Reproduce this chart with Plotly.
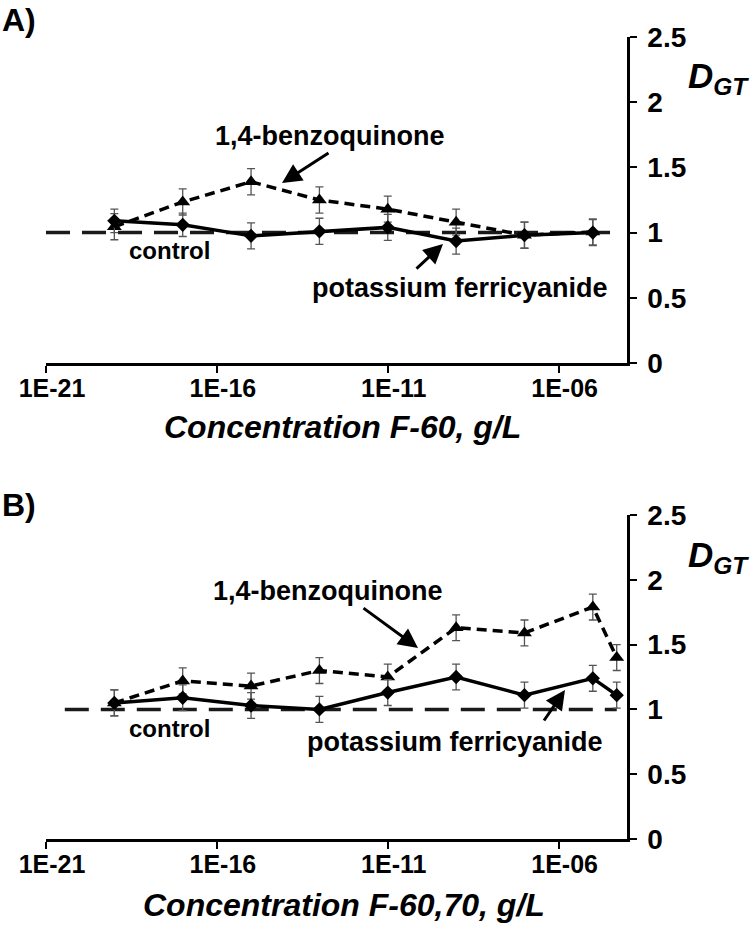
import plotly.graph_objects as go

# ---------------- data ----------------
conc_a = [1e-19, 1e-17, 1e-15, 1e-13, 1e-11, 1e-9, 1e-7, 1e-5]
a_benzo = [1.045, 1.235, 1.39, 1.25, 1.18, 1.08, 0.98, 1.005]
a_benzo_err = [0.1, 0.1, 0.1, 0.1, 0.1, 0.1, 0.1, 0.1]
a_ferri = [1.09, 1.06, 0.975, 1.01, 1.04, 0.935, 0.98, 1.0]
a_ferri_err = [0.09, 0.09, 0.1, 0.1, 0.1, 0.1, 0.1, 0.1]

conc_b = [1e-19, 1e-17, 1e-15, 1e-13, 1e-11, 1e-9, 1e-7, 1e-5, 5e-5]
b_benzo = [1.05, 1.22, 1.18, 1.30, 1.25, 1.63, 1.59, 1.79, 1.40]
b_benzo_err = [0.1, 0.1, 0.1, 0.1, 0.1, 0.1, 0.1, 0.1, 0.1]
b_ferri = [1.05, 1.09, 1.03, 1.00, 1.13, 1.25, 1.11, 1.24, 1.11]
b_ferri_err = [0.1, 0.1, 0.1, 0.1, 0.1, 0.1, 0.1, 0.1, 0.1]

control_a_x = [1e-21, 10 ** -4.45]
control_b_x = [10 ** -20.45, 10 ** -4.3]
control_level = [1, 1]

x_tickvals = [1e-21, 1e-16, 1e-11, 1e-6]
x_ticktext = ["1E-21", "1E-16", "1E-11", "1E-06"]
y_tickvals = [0, 0.5, 1, 1.5, 2, 2.5]
y_ticktext = ["0", "0.5", "1", "1.5", "2", "2.5"]

# ---------------- figure ----------------
W, H = 750, 944
FONT = "Liberation Sans, Arial, sans-serif"


def px(x):
    return x / W


def py(y):
    return 1 - y / H


fig = go.Figure()


def add_panel(xa, ya, conc, benzo, benzo_err, ferri, ferri_err, cx):
    fig.add_trace(go.Scatter(
        x=cx, y=control_level, xaxis=xa, yaxis=ya, mode="lines",
        line=dict(color="#1a1a1a", width=3.5, dash="24px,12px"),
        hoverinfo="skip", showlegend=False))
    fig.add_trace(go.Scatter(
        x=conc, y=benzo, xaxis=xa, yaxis=ya, mode="lines+markers",
        line=dict(color="black", width=3.5, dash="10px,6px"),
        marker=dict(symbol="triangle-up", size=13, color="black"),
        error_y=dict(type="data", array=benzo_err, color="#555555",
                     thickness=1.3, width=4),
        showlegend=False))
    fig.add_trace(go.Scatter(
        x=conc, y=ferri, xaxis=xa, yaxis=ya, mode="lines+markers",
        line=dict(color="black", width=3.5),
        marker=dict(symbol="diamond", size=11, color="black"),
        error_y=dict(type="data", array=ferri_err, color="#555555",
                     thickness=1.3, width=4),
        showlegend=False))


add_panel("x", "y", conc_a, a_benzo, a_benzo_err, a_ferri, a_ferri_err, control_a_x)
add_panel("x2", "y2", conc_b, b_benzo, b_benzo_err, b_ferri, b_ferri_err, control_b_x)

xdom = [px(46), px(627)]
xcommon = dict(type="log", range=[-21, -4], domain=xdom, showline=True,
               linecolor="black", linewidth=2.5, ticks="outside", ticklen=7,
               tickwidth=1.5, tickcolor="black", tickvals=x_tickvals,
               ticktext=x_ticktext, showgrid=False, zeroline=False,
               ticklabelshift=6, ticklabelstandoff=-6, automargin=False,
               tickfont=dict(family=FONT, size=25, color="black", weight="bold"))
ycommon = dict(range=[0, 2.5], side="right", showline=True, linecolor="black",
               linewidth=2.5, ticks="outside", ticklen=7, tickwidth=1.5,
               tickcolor="black", tickvals=y_tickvals, ticktext=y_ticktext,
               showgrid=False, zeroline=False, automargin=False,
               ticklabelstandoff=5,
               tickfont=dict(family=FONT, size=28, color="black", weight="bold"))

fig.update_layout(
    width=W, height=H, autosize=False,
    margin=dict(l=0, r=0, t=0, b=0, pad=0, autoexpand=False),
    paper_bgcolor="white", plot_bgcolor="white",
    xaxis=dict(anchor="y", **xcommon),
    yaxis=dict(anchor="x", domain=[py(363), py(37)], **ycommon),
    xaxis2=dict(anchor="y2", **xcommon),
    yaxis2=dict(anchor="x2", domain=[py(839), py(515)], **ycommon),
)


def text_ann(txt, x, y, size, italic=False):
    return dict(text=txt, x=px(x), y=py(y), xref="paper", yref="paper",
                xanchor="center", yanchor="middle", showarrow=False,
                font=dict(family=FONT, size=size, color="black", weight="bold",
                          style="italic" if italic else "normal"))


def arrow_ann(tail, head):
    return dict(text="", x=px(head[0]), y=py(head[1]), xref="paper", yref="paper",
                ax=tail[0] - head[0], ay=tail[1] - head[1], showarrow=True,
                arrowhead=2, arrowsize=1.3, arrowwidth=3, arrowcolor="black",
                standoff=0)


annotations = [
    text_ann("A)", 19, 20, 32),
    text_ann("B)", 19, 505, 32),
    text_ann("D<sub>GT</sub>", 718, 78, 35, italic=True),
    text_ann("D<sub>GT</sub>", 718, 557, 35, italic=True),
    text_ann("Concentration F-60, g/L", 342, 427, 32, italic=True),
    text_ann("Concentration F-60,70, g/L", 344, 905, 32, italic=True),
    # panel A
    text_ann("1,4-benzoquinone", 330, 136, 27),
    arrow_ann((330, 152), (282, 183)),
    text_ann("control", 169, 250, 24),
    text_ann("potassium ferricyanide", 460, 288, 27),
    arrow_ann((415, 270), (443, 244)),
    # panel B
    text_ann("1,4-benzoquinone", 328, 591, 27),
    arrow_ann((362, 607), (418, 648)),
    text_ann("control", 169, 728, 24),
    text_ann("potassium ferricyanide", 455, 742, 27),
    arrow_ann((543, 722), (565, 690)),
]
fig.update_layout(annotations=annotations)

fig.write_html(
    "out.html",
    config={"displayModeBar": False},
    post_script="document.body.style.margin='0';document.body.style.overflow='hidden';",
)
